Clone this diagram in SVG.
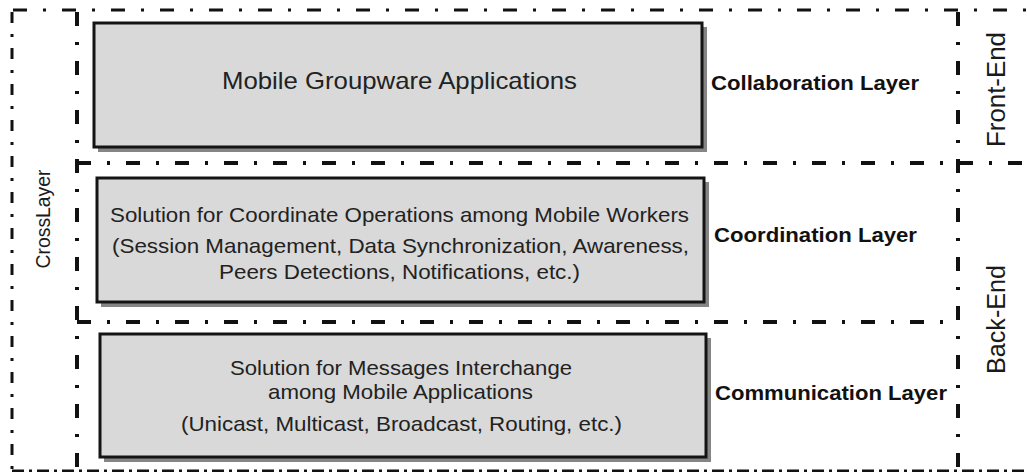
<svg xmlns="http://www.w3.org/2000/svg" width="1027" height="472" viewBox="0 0 1027 472">
<style>
.bg{fill:#ffffff}
.shadow{fill:#858585}
.box{fill:#d9d9d9;stroke:#141414;stroke-width:3}
.t{font-family:"Liberation Sans",Arial,sans-serif;fill:#222222}
.lbl{font-family:"Liberation Sans",Arial,sans-serif;fill:#111111;font-weight:bold;font-size:21px}
.side{font-family:"Liberation Sans",Arial,sans-serif;fill:#1a1a1a;font-size:25px}
.cross{font-family:"Liberation Sans",Arial,sans-serif;fill:#1a1a1a;font-size:21px}
.thick{fill:none;stroke:#111111;stroke-width:4;stroke-dasharray:14 16 3 16}
.thin{fill:none;stroke:#111111;stroke-width:3;stroke-dasharray:14 16 3 16}
.outer{fill:none;stroke:#111111;stroke-width:3;stroke-dasharray:11 11 3 11}
.bottom{fill:none;stroke:#111111;stroke-width:3;stroke-dasharray:12 5 3 5}
</style>
<rect class="bg" x="0" y="0" width="1027" height="472"/>
<g id="connectors">
<line class="thin" x1="13" y1="10" x2="1027" y2="10"/>
<line class="outer" x1="12" y1="12" x2="12" y2="472"/>
<line class="thick" x1="77" y1="12" x2="77" y2="472"/>
<line class="thick" x1="77" y1="163" x2="1027" y2="163"/>
<line class="thick" x1="77" y1="322" x2="958" y2="322"/>
<line class="thick" x1="958" y1="12" x2="958" y2="472"/>
<line class="bottom" x1="12" y1="471" x2="1027" y2="471"/>
</g>
<g id="collaboration">
<rect class="shadow" x="98" y="27" width="609" height="125"/>
<rect class="box" x="94" y="23" width="608" height="124"/>
<text class="t" x="222" y="89" font-size="24" textLength="355" lengthAdjust="spacingAndGlyphs">Mobile Groupware Applications</text>
<text class="lbl" x="711" y="90" textLength="208" lengthAdjust="spacingAndGlyphs">Collaboration  Layer</text>
</g>
<g id="coordination">
<rect class="shadow" x="101" y="182" width="608" height="125"/>
<rect class="box" x="97" y="178" width="607" height="124"/>
<text class="t" x="110" y="222" font-size="21" textLength="579" lengthAdjust="spacingAndGlyphs">Solution  for Coordinate Operations among Mobile Workers</text>
<text class="t" x="112" y="253" font-size="21" textLength="577" lengthAdjust="spacingAndGlyphs">(Session Management, Data Synchronization, Awareness,</text>
<text class="t" x="219" y="279" font-size="21" textLength="361" lengthAdjust="spacingAndGlyphs">Peers Detections, Notifications, etc.)</text>
<text class="lbl" x="714" y="242" textLength="203" lengthAdjust="spacingAndGlyphs">Coordination  Layer</text>
</g>
<g id="communication">
<rect class="shadow" x="104" y="338" width="607" height="124"/>
<rect class="box" x="100" y="334" width="606" height="123"/>
<text class="t" x="230" y="375" font-size="21" textLength="342" lengthAdjust="spacingAndGlyphs">Solution  for Messages Interchange</text>
<text class="t" x="268" y="399" font-size="21" textLength="265" lengthAdjust="spacingAndGlyphs">among Mobile Applications</text>
<text class="t" x="181" y="431" font-size="21" textLength="441" lengthAdjust="spacingAndGlyphs">(Unicast, Multicast, Broadcast, Routing, etc.)</text>
<text class="lbl" x="715" y="400" textLength="232" lengthAdjust="spacingAndGlyphs">Communication  Layer</text>
</g>
<g id="front-end">
<text class="side" transform="translate(1005,89.5) rotate(-90)" x="0" y="0" text-anchor="middle" textLength="115" lengthAdjust="spacingAndGlyphs">Front-End</text>
</g>
<g id="back-end">
<text class="side" transform="translate(1005,319.5) rotate(-90)" x="0" y="0" text-anchor="middle" textLength="109" lengthAdjust="spacingAndGlyphs">Back-End</text>
</g>
<g id="crosslayer">
<text class="cross" transform="translate(50,219) rotate(-90)" x="0" y="0" text-anchor="middle" textLength="99" lengthAdjust="spacingAndGlyphs">CrossLayer</text>
</g>
</svg>
